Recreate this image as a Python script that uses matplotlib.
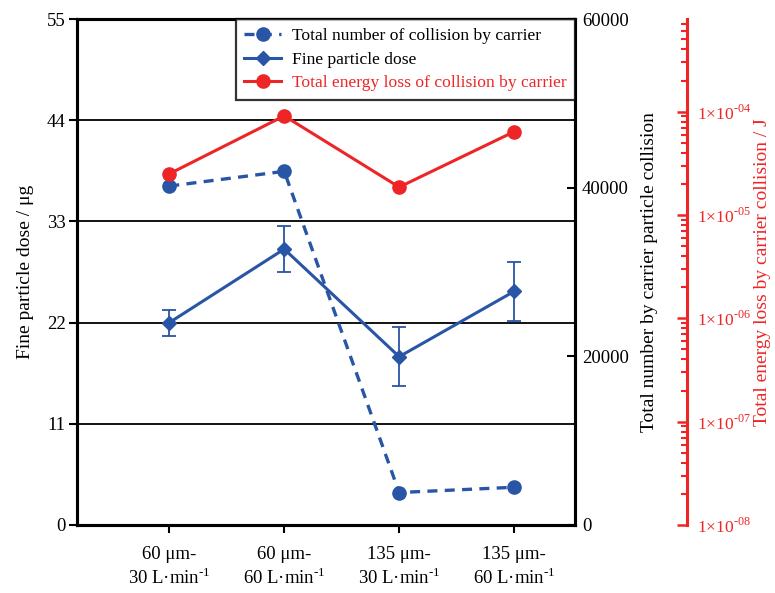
import matplotlib
matplotlib.use("Agg")
import matplotlib.pyplot as plt
from matplotlib.lines import Line2D
from matplotlib.ticker import FixedLocator, FuncFormatter, LogLocator, NullFormatter
import numpy as np

plt.rcParams['font.family'] = ['Liberation Serif', 'DejaVu Serif']
plt.rcParams['mathtext.fontset'] = 'custom'
plt.rcParams['mathtext.rm'] = 'Liberation Serif'
plt.rcParams['axes.unicode_minus'] = False

categories = ["60 μm-\n30 L·min$^{\\text{-1}}$", "60 μm-\n60 L·min$^{\\text{-1}}$",
              "135 μm-\n30 L·min$^{\\text{-1}}$", "135 μm-\n60 L·min$^{\\text{-1}}$"]
dose = [22.0, 30.0, 18.3, 25.4]
dose_err = [1.4, 2.5, 3.2, 3.2]
collision_number = [40200, 41950, 3850, 4475]
energy_loss = [2.5e-5, 9.1e-5, 1.86e-5, 6.4e-5]
left_ticks = [0, 11, 22, 33, 44, 55]
right_ticks = [0, 20000, 40000, 60000]
log_ticks = [1e-8, 1e-7, 1e-6, 1e-5, 1e-4]

BLUE = '#2855A5'
RED = '#EE2526'
TICK_FS = 13.5
LABEL_FS = 14

fig = plt.figure(figsize=(7.75, 5.93), dpi=100)
ax1 = fig.add_axes([0.099, 0.1147, 0.643, 0.853])
ax2 = ax1.twinx()
ax3 = ax1.twinx()

x = np.arange(len(categories))

# grid lines
for v in left_ticks[1:-1]:
    ax1.axhline(v, color='black', lw=1.3, zorder=1)

ax1.errorbar(x, dose, yerr=dose_err, color=BLUE, lw=2.2, marker='D', ms=7,
             ecolor=BLUE, elinewidth=1.3, capsize=5, capthick=1.3, zorder=3)
ax1.set_ylim(0, 55)
ax1.set_xlim(-0.805, 3.53)
ax1.yaxis.set_major_locator(FixedLocator(left_ticks))
ax1.set_xticks(x)
ax1.set_xticklabels(categories, fontsize=13.5, linespacing=1.25)
ax1.tick_params(axis='y', direction='out', length=6, width=1.5, labelsize=TICK_FS, pad=2)
ax1.tick_params(axis='x', direction='out', length=6, width=1.5, pad=9)
ax1.set_ylabel('Fine particle dose / μg', fontsize=LABEL_FS, labelpad=9)
for s in ax1.spines.values():
    s.set_linewidth(2.2)

ax2.plot(x, collision_number, color=BLUE, lw=2.4, ls=(0, (3.0, 2.2)), marker='o', ms=9.5, zorder=3)
ax2.set_ylim(0, 60000)
ax2.yaxis.set_major_locator(FixedLocator(right_ticks))
ax2.tick_params(axis='y', direction='in', length=6, width=1.5, labelsize=TICK_FS, pad=5)
ax2.set_ylabel('Total number by carrier particle collision', fontsize=LABEL_FS, labelpad=9)
for s in ax2.spines.values():
    s.set_linewidth(2.2)

ax3.plot(x, energy_loss, color=RED, lw=2.2, marker='o', ms=9.5, zorder=3)
ax3.set_yscale('log')
ax3.set_ylim(1e-8, 10 ** (-3.105))
ax3.spines['right'].set_position(('axes', 1.225))
ax3.spines['right'].set_color(RED)
ax3.spines['right'].set_linewidth(2.2)
for k in ['left', 'top', 'bottom']:
    ax3.spines[k].set_visible(False)
ax3.yaxis.set_major_locator(FixedLocator(log_ticks))
ax3.yaxis.set_minor_locator(LogLocator(base=10, subs=np.arange(2, 10), numticks=100))
ax3.yaxis.set_minor_formatter(NullFormatter())

def fmt(v, pos):
    e = int(round(np.log10(v)))
    return '1×10$^{\\text{-%02d}}$' % (-e)

ax3.yaxis.set_major_formatter(FuncFormatter(fmt))
ax3.tick_params(axis='y', which='major', direction='in', length=7, width=1.8, color=RED,
                labelcolor=RED, labelsize=12.5, pad=7)
ax3.tick_params(axis='y', which='minor', direction='in', length=4, width=1.5, color=RED)
ax3.set_ylabel('Total energy loss by carrier collision / J', color=RED, fontsize=LABEL_FS, labelpad=2)

handles = [
    Line2D([], [], color=BLUE, lw=2.4, ls=(0, (3.0, 2.2)), marker='o', ms=9.5),
    Line2D([], [], color=BLUE, lw=2.2, marker='D', ms=7),
    Line2D([], [], color=RED, lw=2.2, marker='o', ms=9.5),
]
labels = ['Total number of collision by carrier', 'Fine particle dose',
          'Total energy loss of collision by carrier']
leg = ax3.legend(handles, labels, loc='upper right', bbox_to_anchor=(1.0, 1.0),
                 borderaxespad=0, fontsize=12.6, frameon=True, fancybox=False,
                 edgecolor='black', handlelength=2.1, handletextpad=0.6,
                 borderpad=0.5, labelspacing=0.42)
leg.get_frame().set_linewidth(1.6)
leg.texts[2].set_color(RED)
leg.set_zorder(10)

fig.savefig('out.png', dpi=100)
